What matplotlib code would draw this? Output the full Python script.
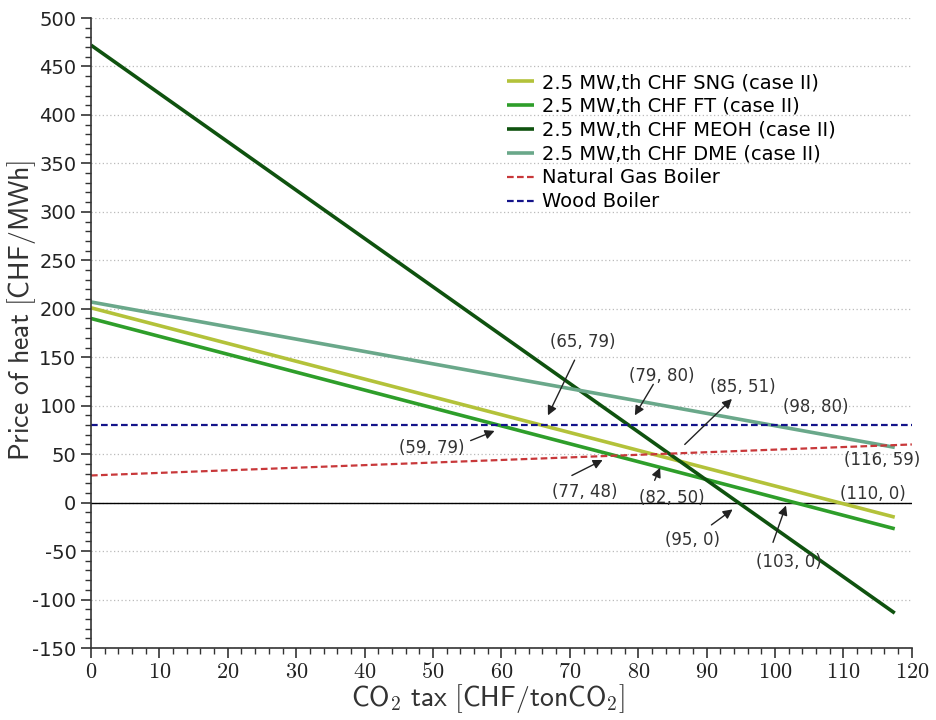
import numpy as np
import matplotlib
matplotlib.use('Agg')
import matplotlib.pyplot as plt
from matplotlib.ticker import MultipleLocator, FuncFormatter

plt.rcParams['font.family'] = 'DejaVu Sans'
plt.rcParams['mathtext.fontset'] = 'cm'
plt.rcParams['axes.unicode_minus'] = False

# CO2 tax range covered by each cost line [CHF/tonCO2]
tax_chf = [0, 117.5]
tax_boiler = [0, 120]

# Price of heat at both ends of the range [CHF/MWh]
price_sng = [201, -15]
price_ft = [190, -27]
price_meoh = [472, -114]
price_dme = [207, 57]
price_gas_boiler = [28, 60]
price_wood_boiler = [80, 80]

labels = ['2.5 MW,th CHF SNG (case II)', '2.5 MW,th CHF FT (case II)',
          '2.5 MW,th CHF MEOH (case II)', '2.5 MW,th CHF DME (case II)',
          'Natural Gas Boiler', 'Wood Boiler']
colors = ['#b3c23a', '#2e9e2a', '#0f520f', '#6aa88a', '#c8383a', '#14148a']

# Break-even point labels: text, text position, arrow tail, arrow head
breakeven_labels = ['(65, 79)', '(79, 80)', '(85, 51)', '(59, 79)', '(77, 48)',
                    '(82, 50)', '(95, 0)', '(103, 0)', '(98, 80)', '(116, 59)', '(110, 0)']
label_xy = [(71.9, 166), (83.5, 131), (95.3, 119), (49.8, 56), (72.2, 11),
            (84.9, 5), (88.0, -39), (102.0, -61), (106.0, 99), (115.6, 44), (114.3, 9)]
arrow_tail = [(70.7, 147), (82.2, 122), (86.8, 60), (55.5, 64), (70.3, 28),
              (82.4, 23), (90.7, -23), (99.7, -41), None, None, None]
arrow_head = [(66.8, 90), (79.5, 90), (93.7, 107), (59.0, 74), (74.8, 44),
              (83.2, 36), (93.8, -7), (101.6, -3), None, None, None]

fig = plt.figure(figsize=(9.36, 7.2), dpi=100)
ax = fig.add_axes([0.0972, 0.1, 0.877, 0.875])

series = [price_sng, price_ft, price_meoh, price_dme]
for vals, lbl, col in zip(series, labels[:4], colors[:4]):
    ax.plot(tax_chf, vals, color=col, linewidth=2.6, label=lbl, solid_capstyle='butt')
ax.plot(tax_boiler, price_gas_boiler, color=colors[4], linewidth=1.6,
        linestyle=(0, (3, 1.5)), label=labels[4])
ax.plot(tax_boiler, price_wood_boiler, color=colors[5], linewidth=1.6,
        linestyle=(0, (3, 1.5)), label=labels[5])

ax.axhline(0, color='black', linewidth=1.0, zorder=1)

for txt, pos, tail, head in zip(breakeven_labels, label_xy, arrow_tail, arrow_head):
    ax.text(pos[0], pos[1], txt, ha='center', va='center', fontsize=12, color='#333333')
    if head is not None:
        ax.annotate('', xy=head, xytext=tail,
                    arrowprops=dict(arrowstyle='-|>', color='#222222', lw=1.0,
                                    mutation_scale=14, shrinkA=0, shrinkB=0))

ax.set_xlim(0, 120)
ax.set_ylim(-150, 500)
ax.xaxis.set_major_locator(MultipleLocator(10))
ax.xaxis.set_minor_locator(MultipleLocator(2))
ax.yaxis.set_major_locator(MultipleLocator(50))
ax.yaxis.set_minor_locator(MultipleLocator(10))
# x tick labels in the same sans-serif as the axis titles
ax.xaxis.set_major_formatter(FuncFormatter(lambda v, p: r'$\mathsf{%d}$' % v))
ax.tick_params(axis='x', which='major', labelsize=16, length=7, width=1.2, pad=3,
               colors='#333333', labelcolor='#222222')
ax.tick_params(axis='y', which='major', labelsize=14, length=7, width=1.2,
               colors='#333333', labelcolor='#222222')
ax.tick_params(which='minor', length=4, width=1.0, colors='#333333')

ax.yaxis.grid(True, linestyle=(0, (1, 2)), color='#bbbbbb', linewidth=0.9)
ax.set_axisbelow(True)
ax.spines['top'].set_visible(False)
ax.spines['right'].set_visible(False)
for side in ['left', 'bottom']:
    ax.spines[side].set_color('#333333')
    ax.spines[side].set_linewidth(1.2)

ax.set_xlabel(r'$\mathsf{CO_2\ tax\ [CHF/tonCO_2]}$', fontsize=20, color='#333333')
ax.set_ylabel(r'$\mathsf{Price\ of\ heat\ [CHF/MWh]}$', fontsize=20, color='#333333')
ax.xaxis.set_label_coords(0.484, -0.054)
ax.yaxis.set_label_coords(-0.064, 0.536)

ax.legend(loc='upper left', bbox_to_anchor=(0.497, 0.925), frameon=False, fontsize=14,
          handlelength=1.4, handletextpad=0.4, labelspacing=0.25, borderaxespad=0)

fig.savefig('out.png', dpi=100)
